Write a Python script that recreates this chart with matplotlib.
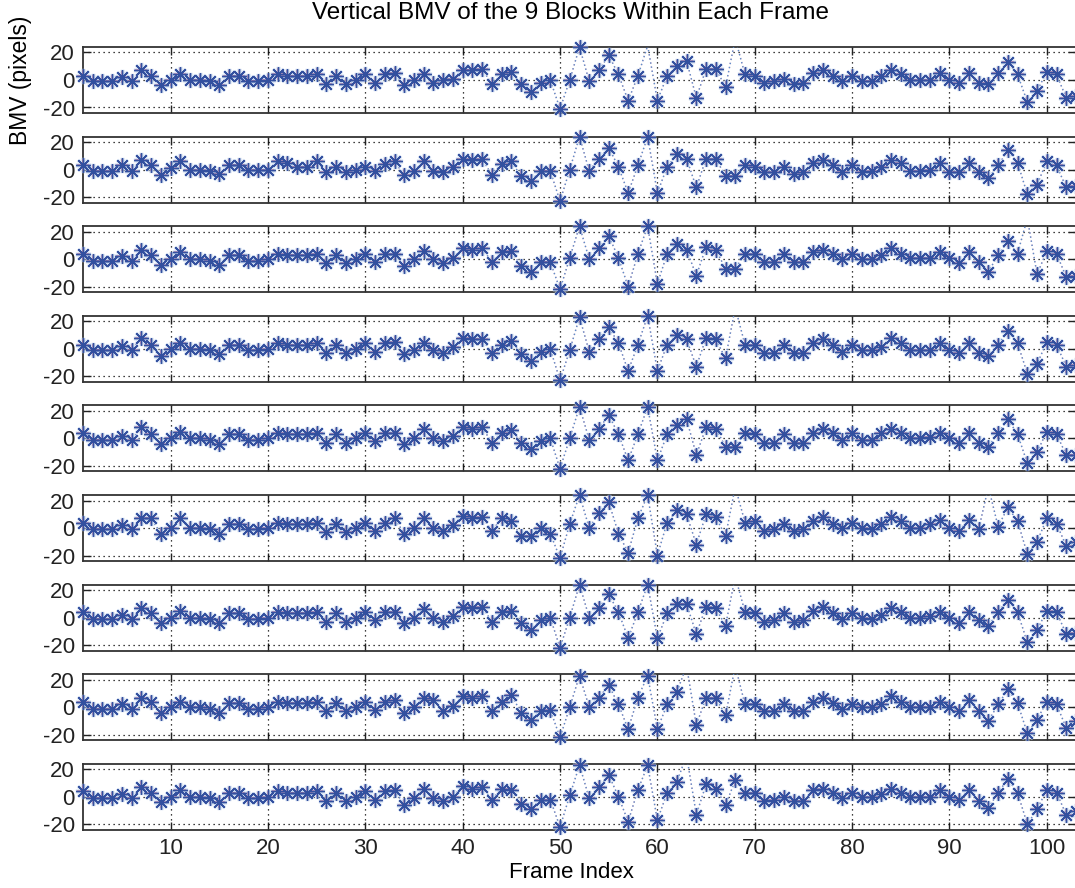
import numpy as np
import matplotlib
matplotlib.use('Agg')
import matplotlib.pyplot as plt

plt.rcParams['font.family'] = ['Liberation Sans', 'DejaVu Sans']
plt.rcParams['axes.unicode_minus'] = False

# vertical BMV of each block, frames 1..103 (values > 24 fall outside the axes)
frames = np.arange(1, 104)

block1 = [3, -1, -1, -1, 2, -1, 7, 3, -4, 0, 4, 0, 0, -1, -4, 3, 3, -1, -1, 0,
          4, 3, 3, 3, 4, -3, 3, -3, 0, 4, -2, 4, 5, -4, 0, 4, -2, 0, 1, 7,
          7, 8, -3, 4, 6, -3, -9, -2, 0, -21, 0, 24, -1, 7, 18, 4, -15, 3, 25, -15,
          3, 10, 14, -13, 8, 8, -5, 30, 4, 3, -2, -1, 1, -3, -2, 5, 7, 3, -1, 3,
          -1, -1, 3, 7, 4, 0, 0, 0, 5, 0, -2, 5, -2, -3, 5, 13, 4, -16, -8, 6,
          4, -13, -12]
block2 = [3, -1, -1, -1, 3, -1, 7, 3, -4, 1, 6, 0, 0, -1, -3, 3, 3, 0, 0, 0,
          6, 5, 2, 2, 6, -2, 2, -2, 0, 2, -1, 4, 6, -4, -1, 6, -1, -2, 2, 8,
          7, 8, -4, 4, 6, -5, -8, -1, -1, -23, 0, 24, -1, 8, 16, 2, -17, 3, 24, -17,
          2, 11, 8, -13, 8, 8, -5, -5, 3, 2, -2, -2, 2, -3, -2, 5, 7, 3, -2, 3,
          -2, -1, 2, 7, 5, -1, -1, 0, 5, -2, -2, 5, -2, -6, 3, 14, 5, -18, -11, 6,
          3, -13, -12]
block3 = [4, -1, -1, -1, 2, -1, 7, 3, -4, 0, 5, 0, 0, -1, -4, 3, 3, -1, -1, 0,
          4, 3, 3, 3, 4, -3, 3, -3, 0, 4, -2, 4, 4, -5, 0, 6, 0, -3, 1, 8,
          7, 8, -2, 5, 6, -5, -9, -2, -2, -22, 1, 24, 0, 8, 17, 1, -20, 4, 24, -18,
          4, 11, 7, -12, 9, 7, -7, -7, 4, 4, -2, -2, 4, -2, -2, 5, 7, 4, 0, 4,
          0, 0, 3, 8, 4, 1, 1, 1, 5, 1, -3, 5, -2, -9, 3, 13, 4, 30, -11, 6,
          4, -13, -12]
block4 = [3, -1, -1, -1, 2, -1, 8, 3, -5, 0, 4, 0, 0, -1, -4, 3, 3, -1, -1, 0,
          4, 3, 3, 3, 4, -3, 3, -3, 0, 4, -2, 4, 5, -4, -1, 4, -1, -3, 1, 8,
          7, 7, -3, 3, 6, -4, -9, -2, 0, -23, -1, 23, -2, 7, 16, 4, -16, 3, 24, -16,
          3, 10, 7, -13, 8, 7, -7, 30, 3, 3, -3, -3, 3, -3, -3, 4, 7, 3, -2, 3,
          -1, -1, 1, 8, 4, -1, -1, -1, 4, -1, -3, 4, -3, -5, 3, 13, 4, -18, -11, 5,
          3, -13, -12]
block5 = [4, -1, -1, -1, 2, -1, 8, 3, -4, 0, 5, 0, 0, -1, -4, 3, 3, -1, -1, 0,
          4, 3, 3, 3, 4, -3, 3, -3, 0, 4, -2, 4, 4, -4, 0, 7, 0, -2, 2, 8,
          7, 8, -3, 4, 6, -3, -8, -2, 0, -22, 0, 23, -1, 7, 17, 3, -16, 3, 23, -16,
          3, 10, 14, -12, 8, 7, -6, -6, 4, 3, -3, -3, 3, -3, -3, 4, 7, 4, -1, 4,
          -1, -1, 4, 7, 4, 0, 0, 1, 4, 0, -3, 4, -3, -6, 4, 14, 3, -18, -10, 5,
          3, -12, -12]
block6 = [4, -1, -1, -1, 2, -1, 7, 7, -4, 0, 7, 0, 0, -1, -4, 3, 3, -1, -1, 0,
          4, 3, 3, 3, 4, -3, 3, -3, 0, 4, -2, 4, 7, -4, 0, 7, 0, -2, 2, 9,
          7, 8, -2, 7, 5, -6, -6, 0, -4, -22, 3, 24, 0, 11, 19, -4, -18, 7, 24, -20,
          4, 13, 10, -12, 10, 8, -6, 30, 4, 5, -2, -1, 3, -2, -1, 5, 8, 3, 0, 4,
          0, -1, 3, 8, 5, 0, 0, 3, 6, 0, -2, 6, -1, 30, 1, 15, 5, -19, -10, 7,
          3, -13, -10]
block7 = [4, -1, -1, -1, 2, -1, 7, 3, -4, 0, 5, 0, 0, -1, -4, 3, 3, -1, -1, 0,
          4, 3, 3, 3, 4, -3, 3, -3, 0, 4, -2, 4, 4, -4, 0, 6, 0, -3, 1, 8,
          7, 8, -3, 4, 5, -4, -9, -2, 0, -22, 0, 24, 0, 7, 17, 4, -15, 4, 24, -15,
          3, 10, 10, -12, 8, 7, -6, 30, 4, 3, -3, -2, 3, -3, -2, 5, 8, 3, -1, 3,
          0, -1, 2, 7, 4, 0, 0, 1, 4, 0, -4, 4, -2, -6, 4, 13, 4, -18, -9, 5,
          4, -12, -11]
block8 = [4, -1, -1, -1, 2, -1, 7, 4, -4, 0, 4, 0, 0, -1, -4, 3, 3, -1, -1, 0,
          4, 3, 3, 3, 4, -3, 3, -3, 0, 4, -2, 4, 5, -4, 0, 7, 5, -3, 1, 8,
          7, 8, -3, 4, 9, -4, -9, -3, -2, -22, 0, 23, 0, 7, 16, 2, -16, 7, 23, -16,
          2, 11, 30, -13, 7, 7, -6, 30, 2, 2, -3, -3, 2, -3, -3, 4, 7, 3, -1, 2,
          0, 0, 2, 8, 4, 0, 0, 0, 4, 0, -3, 5, -3, -10, 2, 13, 3, -19, -9, 4,
          2, -15, -10]
block9 = [4, -1, -1, -1, 2, -1, 7, 3, -4, 0, 5, 0, 0, -1, -4, 3, 3, -1, -1, 0,
          4, 3, 3, 3, 4, -3, 3, -3, 0, 4, -2, 4, 5, -6, -1, 6, -1, -3, 0, 8,
          6, 7, -2, 6, 5, -5, -9, -2, -2, -22, 1, 23, -1, 7, 16, 0, -18, 5, 23, -17,
          3, 11, 30, -13, 9, 6, -6, 12, 3, 3, -3, -2, 0, -3, -3, 5, 6, 3, -1, 3,
          0, 0, 2, 6, 3, 0, 0, 0, 5, 0, -2, 5, -3, -8, 3, 13, 3, -20, -9, 5,
          3, -13, -10]

blocks = [block1, block2, block3, block4, block5, block6, block7, block8, block9]

xticks = [10, 20, 30, 40, 50, 60, 70, 80, 90, 100]
yticks = [-20, 0, 20]
ylim = (-24, 24)

W, H = 1075, 888
fig = plt.figure(figsize=(W / 100, H / 100), dpi=100)

left_px, right_px = 83, 1076
top0, ax_h, pitch = 47, 66, 89.6

axes = []
for k, vals in enumerate(blocks):
    top = top0 + k * pitch
    ax = fig.add_axes([left_px / W, 1 - (top + ax_h) / H,
                       (right_px - left_px) / W, ax_h / H])
    y = np.array(vals, dtype=float)
    inside = (y >= ylim[0]) & (y <= ylim[1])

    # red '+' series underneath, blue '*' series on top (dotted connecting lines)
    ax.plot(frames, y, ls=(0, (1, 2)), lw=1.0, color='#e9a0b6', zorder=2)
    ax.plot(frames, y, ls=(0, (1, 2)), lw=1.0, color='#5a8fcc', zorder=3)
    ax.plot(frames[inside], y[inside], ls='none', marker=(8, 2, 0), ms=11, mew=2.6,
            color='#b9cdea', alpha=0.6, clip_on=False, zorder=4)
    ax.plot(frames[inside], y[inside], ls='none', marker='+', ms=9, mew=1.3,
            color='#e07a98', alpha=0.6, clip_on=False, zorder=5)
    ax.plot(frames[inside], y[inside], ls='none', marker=(8, 2, 0), ms=10.5, mew=1.0,
            color='#33509f', clip_on=False, zorder=6)

    ax.set_xlim(1, 103)
    ax.set_ylim(*ylim)
    ax.set_xticks(xticks)
    ax.set_yticks(yticks)
    ax.grid(True, ls=(0, (1, 3)), lw=0.9, color='k')
    ax.tick_params(direction='in', length=6, width=1.0, top=True, right=True,
                   labelsize=16, pad=6, colors='#222222')
    for s in ax.spines.values():
        s.set_linewidth(1.3)
        s.set_color('#333333')
    if k < len(blocks) - 1:
        ax.tick_params(labelbottom=False)
    axes.append(ax)

axes[-1].tick_params(axis='x', pad=6)

fig.text(571 / W, 1 - 13 / H, 'Vertical BMV of the 9 Blocks Within Each Frame',
         ha='center', va='center', fontsize=17.5)
fig.text(571 / W, 1 - 872 / H, 'Frame Index', ha='center', va='center', fontsize=16)
fig.text(21 / W, 1 - 80 / H, 'BMV (pixels)', ha='center', va='center',
         rotation=90, fontsize=16.5)

fig.savefig('out.png', dpi=100)
